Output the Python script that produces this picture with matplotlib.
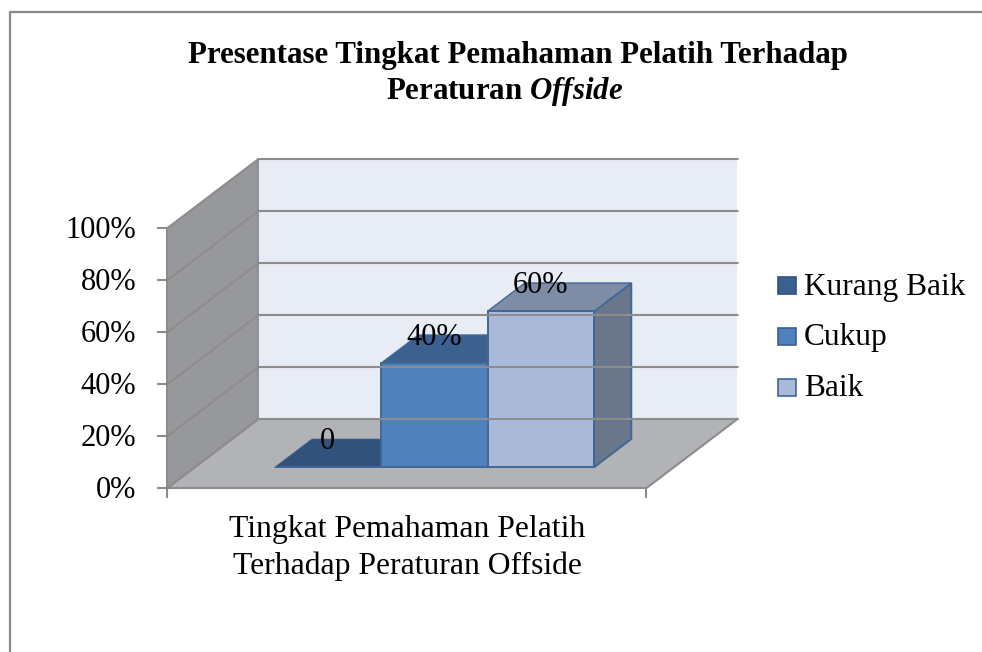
from matplotlib import pyplot as plt
from matplotlib.patches import Polygon, Rectangle

plt.rcParams['font.family'] = ['Liberation Serif', 'DejaVu Serif']
plt.rcParams['mathtext.fontset'] = 'custom'
plt.rcParams['mathtext.bfit'] = 'Liberation Serif:italic:bold'

title_lines = ['Presentase Tingkat Pemahaman Pelatih Terhadap', r'Peraturan $\mathbfit{Offside}$']
series = ['Kurang Baik', 'Cukup', 'Baik']
values = [0, 40, 60]
value_labels = ['0', '40%', '60%']
y_ticks = [0, 20, 40, 60, 80, 100]
y_tick_labels = ['0%', '20%', '40%', '60%', '80%', '100%']
category_lines = ['Tingkat Pemahaman Pelatih', 'Terhadap Peraturan Offside']

front_colors = ['#3A6090', '#4F81BD', '#AAB9D7']
top_colors = ['#32527C', '#3C6090', '#7F8CA5']
side_colors = ['#2C4A70', '#38608E', '#6A778A']
edge_color = '#3F6797'
grid_color = '#8C8C8C'

# oblique projection of the 3d box, in pixels of the picture
x0, y0 = 167.5, 488
floor_w = 479
depth_x, depth_y = 91, -69
unit_h = 2.6
gap = 1 / 6
bar_w = (1 - 2 * gap) / len(values)
bar_d0, bar_d1 = 0.30, 0.71
text_size = 22.8


def proj(x, d, v):
    return (x0 + x * floor_w + d * depth_x, y0 + d * depth_y - v * unit_h)


fig = plt.figure(figsize=(9.82, 6.52), dpi=100)
ax = fig.add_axes([0, 0, 1, 1])
ax.set_xlim(0, 982)
ax.set_ylim(652, 0)
ax.axis('off')

# outer frame, the picture cuts it off at the right and the bottom
ax.plot([10, 10, 982], [652, 12, 12], color='#8A8A8A', lw=1.6)

top = y_ticks[-1]
ax.add_patch(Polygon([proj(0, 1, 0), proj(1, 1, 0), proj(1, 1, top), proj(0, 1, top)], fc='#E8ECF5', ec='none'))
ax.add_patch(Polygon([proj(0, 0, 0), proj(0, 1, 0), proj(0, 1, top), proj(0, 0, top)], fc='#97989C', ec='none'))
ax.add_patch(Polygon([proj(0, 0, 0), proj(1, 0, 0), proj(1, 1, 0), proj(0, 1, 0)], fc='#B1B3B6', ec='none'))

for t, lab in zip(y_ticks, y_tick_labels):
    a, b, c = proj(0, 0, t), proj(0, 1, t), proj(1, 1, t)
    ax.plot([a[0], b[0], c[0]], [a[1], b[1], c[1]], color=grid_color, lw=1.5, solid_joinstyle='miter')
    ax.plot([a[0] - 9, a[0]], [a[1], a[1]], color=grid_color, lw=1.5)
    ax.text(a[0] - 31, a[1] + 10, lab, ha='right', va='baseline', fontsize=22, color='black')

# axis lines
a, b, c = proj(0, 0, 0), proj(1, 0, 0), proj(1, 1, 0)
ax.plot([a[0], b[0], c[0]], [a[1], b[1], c[1]], color=grid_color, lw=1.5)
ax.plot([a[0], a[0]], [proj(0, 0, top)[1], a[1] + 9], color=grid_color, lw=1.5)
ax.plot([b[0], b[0]], [b[1], b[1] + 9], color=grid_color, lw=1.5)
ax.plot([proj(0, 1, 0)[0]] * 2, [proj(0, 1, 0)[1], proj(0, 1, top)[1]], color=grid_color, lw=1.2)
ax.plot([proj(0, 0, 0)[0], proj(0, 1, 0)[0]], [proj(0, 0, 0)[1], proj(0, 1, 0)[1]], color=grid_color, lw=1.2)

for i, v in enumerate(values):
    x1 = gap + i * bar_w
    x2 = x1 + bar_w
    ax.add_patch(Polygon([proj(x2, bar_d0, 0), proj(x2, bar_d1, 0), proj(x2, bar_d1, v), proj(x2, bar_d0, v)],
                         fc=side_colors[i], ec=edge_color, lw=1.4, joinstyle='miter'))
    ax.add_patch(Polygon([proj(x1, bar_d0, v), proj(x2, bar_d0, v), proj(x2, bar_d1, v), proj(x1, bar_d1, v)],
                         fc=top_colors[i], ec=edge_color, lw=1.0 if v else 0.5, joinstyle='miter'))
    ax.add_patch(Polygon([proj(x1, bar_d0, 0), proj(x2, bar_d0, 0), proj(x2, bar_d0, v), proj(x1, bar_d0, v)],
                         fc=front_colors[i], ec=edge_color, lw=1.4, joinstyle='miter'))

for i, v in enumerate(values):
    xm = proj(gap + (i + 0.5) * bar_w, bar_d0, v)
    ax.text(xm[0], xm[1] - 18, value_labels[i], ha='center', va='baseline', fontsize=22, color='black')

ax.text(518, 63, title_lines[0], ha='center', va='baseline', fontsize=22.2, fontweight='bold', color='black')
ax.text(505, 99, title_lines[1], ha='center', va='baseline', fontsize=22.2, fontweight='bold', color='black')

ax.text(407.5, 537, category_lines[0], ha='center', va='baseline', fontsize=text_size, color='black')
ax.text(407.5, 574, category_lines[1], ha='center', va='baseline', fontsize=text_size, color='black')

# legend
for y, name, fc, tc in zip([285, 336, 387], series, front_colors, top_colors):
    ax.add_patch(Rectangle((778.5, y - 8.5), 17.5, 17.5, fc=fc, ec=tc if name != 'Baik' else edge_color, lw=1.2))
    ax.text(804, y + 9.5, name, ha='left', va='baseline', fontsize=22.6, color='black')

fig.savefig('out.png', dpi=100)
